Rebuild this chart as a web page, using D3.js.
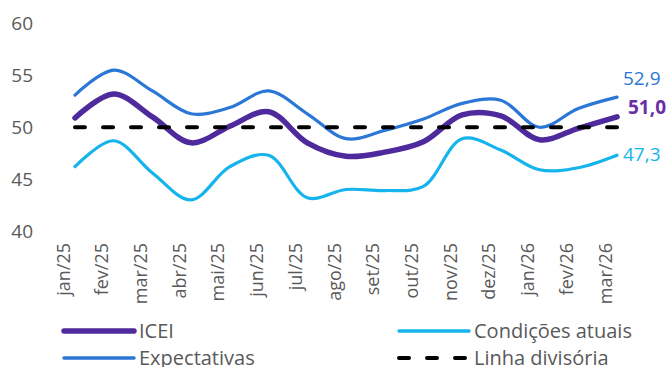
<!DOCTYPE html>
<html><head><meta charset="utf-8">
<script src="https://cdn.jsdelivr.net/npm/d3@7"></script>
<style>body{margin:0;background:#fff}svg{display:block;font-family:"Open Sans",sans-serif}</style>
</head><body><svg id="c" width="671" height="367"></svg>
<script>
const months = ["jan/25","fev/25","mar/25","abr/25","mai/25","jun/25","jul/25","ago/25","set/25","out/25","nov/25","dez/25","jan/26","fev/26","mar/26"];
const icei = [50.9,53.2,51.0,48.5,50.1,51.5,48.5,47.2,47.6,48.6,51.2,51.1,48.8,49.9,51.0];
const expectativas = [53.1,55.5,53.5,51.3,51.9,53.5,51.3,48.9,49.7,50.8,52.3,52.6,50.0,51.8,52.9];
const condicoes = [46.2,48.7,45.6,43.0,46.2,47.3,43.2,44.0,43.9,44.3,48.9,47.8,45.9,46.1,47.3];
const divisoria = months.map(() => 50);
const yTicks = [40,45,50,55,60];

const svg = d3.select("#c");
const x = d3.scalePoint().domain(months).range([75,617]);
const y = d3.scaleLinear().domain([40,60]).range([231,23.5]);

// y axis labels
const yAxis = d3.axisLeft(y).tickValues(yTicks).tickSize(0).tickPadding(0).tickFormat(d3.format("d"));
const ga = svg.append("g").attr("transform","translate(33,0)").call(yAxis);
ga.select(".domain").remove();
ga.selectAll("text").attr("font-size",19).attr("fill","#595959").attr("font-family","Open Sans");

// x axis labels
const xAxis = d3.axisBottom(x).tickSize(0).tickPadding(0);
const gx = svg.append("g").attr("transform","translate(0,243)").call(xAxis);
gx.select(".domain").remove();
gx.selectAll("text")
  .attr("font-size",18).attr("fill","#595959").attr("font-family","Open Sans")
  .attr("text-anchor","end").attr("y",0)
  .attr("transform","translate(-6,0) rotate(-90)")
  .attr("x",0).attr("dy","0");

const line = d3.line().x((d,i)=>x(months[i])).y(d=>y(d)).curve(d3.curveCatmullRom.alpha(0.5));

const colors = {icei:"#4e2a9c", exp:"#2a77d6", cond:"#16b4ec"};

svg.append("path").datum(condicoes).attr("d",line).attr("fill","none")
  .attr("stroke",colors.cond).attr("stroke-width",3.2).attr("stroke-linecap","round");
svg.append("path").datum(expectativas).attr("d",line).attr("fill","none")
  .attr("stroke",colors.exp).attr("stroke-width",3.2).attr("stroke-linecap","round");
svg.append("path").datum(icei).attr("d",line).attr("fill","none")
  .attr("stroke",colors.icei).attr("stroke-width",5.5).attr("stroke-linecap","round");
svg.append("path").datum(divisoria).attr("d",line).attr("fill","none")
  .attr("stroke","#000").attr("stroke-width",4).attr("stroke-linecap","round")
  .attr("stroke-dasharray","10,18");

// end labels
const last = months.length-1;
const fmt = v => d3.format(".1f")(v).replace(".",",");
svg.append("text").attr("x",x(months[last])+6).attr("y",y(expectativas[last])-19).attr("dy","0.35em")
  .attr("font-size",19).attr("fill","#2a77d6").text(fmt(expectativas[last]));
svg.append("text").attr("x",x(months[last])+11).attr("y",y(icei[last])-10).attr("dy","0.35em")
  .attr("font-size",19).attr("font-weight","bold").attr("fill","#6a2ea6").text(fmt(icei[last]));
svg.append("text").attr("x",x(months[last])+6).attr("y",y(condicoes[last])-1).attr("dy","0.35em")
  .attr("font-size",19).attr("fill","#16b4ec").text(fmt(condicoes[last]));

// legend
const legend = [
  {name:"ICEI", color:colors.icei, w:5.5, dash:null, x:62, y:331},
  {name:"Condições atuais", color:colors.cond, w:3.5, dash:null, x:397, y:331},
  {name:"Expectativas", color:colors.exp, w:3.5, dash:null, x:62, y:358},
  {name:"Linha divisória", color:"#000", w:4, dash:"10,18", x:397, y:358}
];
legend.forEach(l=>{
  const g = svg.append("g");
  g.append("line").attr("x1",l.x+2).attr("x2",l.x+72).attr("y1",l.y).attr("y2",l.y)
    .attr("stroke",l.color).attr("stroke-width",l.w).attr("stroke-linecap","round")
    .attr("stroke-dasharray",l.dash);
  g.append("text").attr("x",l.x+77).attr("y",l.y).attr("dy","0.35em")
    .attr("font-size",20).attr("fill","#595959").text(l.name);
});
</script></body></html>
